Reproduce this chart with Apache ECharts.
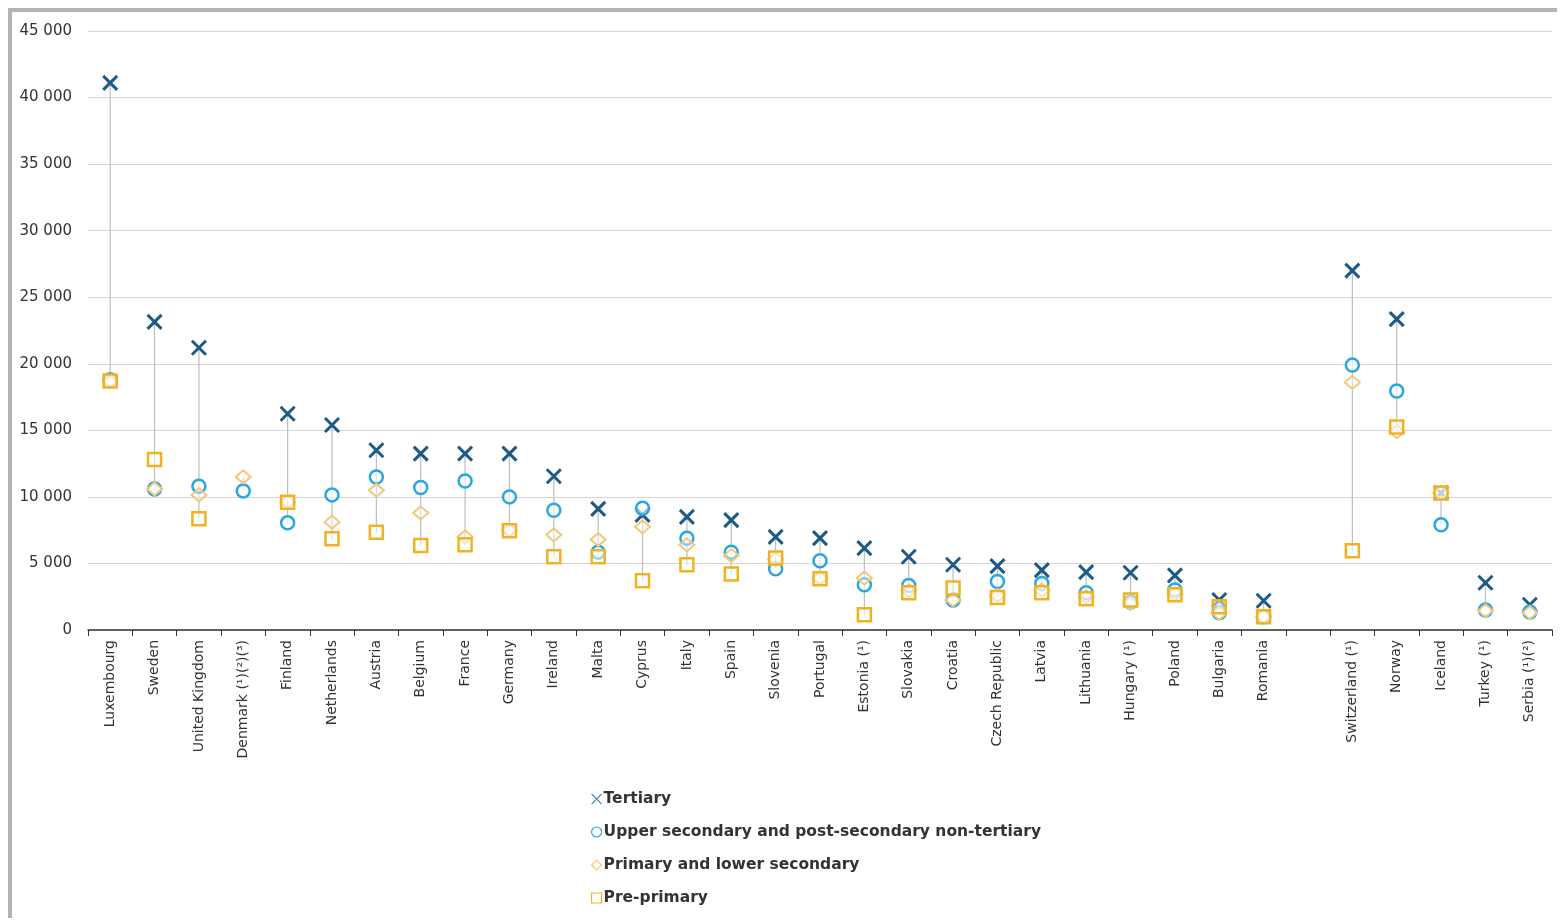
<!DOCTYPE html>
<html>
<head>
<meta charset="utf-8">
<script src="https://cdn.jsdelivr.net/npm/echarts@6/dist/echarts.min.js"></script>
<style>
html,body{margin:0;padding:0;background:#fff;}
#frame{position:absolute;left:8px;top:8px;width:1545px;height:906px;border:4px solid #b3b3b3;border-right:none;border-bottom:none;box-sizing:content-box;}
#chart{position:absolute;left:0;top:0;width:1561px;height:922px;}
</style>
</head>
<body>
<div id="frame"></div>
<div id="chart"></div>
<script>
const categories = ['Luxembourg','Sweden','United Kingdom','Denmark (¹)(²)(³)','Finland','Netherlands','Austria','Belgium','France','Germany','Ireland','Malta','Cyprus','Italy','Spain','Slovenia','Portugal','Estonia (¹)','Slovakia','Croatia','Czech Republic','Latvia','Lithuania','Hungary (¹)','Poland','Bulgaria','Romania','','Switzerland (¹)','Norway','Iceland','Turkey (¹)','Serbia (¹)(²)'];
const tertiary = [41100,23150,21200,null,16250,15400,13500,13250,13250,13250,11550,9100,8650,8500,8250,7000,6900,6150,5500,4900,4800,4500,4350,4300,4100,2250,2200,null,27000,23350,10300,3550,1900];
const upperSecondary = [18800,10600,10800,10450,8050,10150,11500,10700,11200,10000,9000,5850,9150,6900,5850,4600,5200,3400,3350,2250,3650,3500,2800,2100,3000,1300,1000,null,19900,17950,7900,1500,1350];
const primaryLower = [18650,10600,10150,11500,9600,8100,10500,8800,7000,7500,7150,6800,7750,6400,5600,5300,3900,3900,2950,2250,2600,3000,2500,2000,2700,1250,1000,null,18600,14900,10300,1450,1300];
const prePrimary = [18700,12800,8350,null,9600,6850,7350,6350,6400,7450,5500,5500,3700,4900,4200,5400,3850,1150,2800,3150,2450,2800,2350,2250,2650,1750,1000,null,5950,15250,10300,null,null];
const seriesNames = ['Tertiary','Upper secondary and post-secondary non-tertiary','Primary and lower secondary','Pre-primary'];

const allSeries = [tertiary, upperSecondary, primaryLower, prePrimary];
const ranges = categories.map((c, i) => {
  const vals = allSeries.map(s => s[i]).filter(v => v != null);
  if (vals.length < 2) return [i, null, null];
  return [i, Math.min(...vals), Math.max(...vals)];
}).filter(r => r[1] != null);

const fmt = v => String(v).replace(/\B(?=(\d{3})+(?!\d))/g, ' ');
const xPath = 'path://M0,0L10,10M10,0L0,10';
const font = 'DejaVu Sans, Liberation Sans, Arial, sans-serif';

const chart = echarts.init(document.getElementById('chart'), null, {renderer: 'canvas'});
chart.setOption({
  backgroundColor: 'transparent',
  animation: false,
  textStyle: {fontFamily: font},
  grid: {left: 88, right: 9, top: 31, bottom: 292, containLabel: false},
  legend: {
    orient: 'vertical', left: 586, top: 786, itemGap: 17,
    itemWidth: 10, itemHeight: 10,
    textStyle: {fontFamily: font, fontSize: 15.5, fontWeight: 'bold', color: '#333', padding: [0,0,0,-3]},
    data: [
      {name: seriesNames[0], icon: xPath, itemStyle: {color: 'transparent', borderColor: '#5a8fb5', borderWidth: 1.2}},
      {name: seriesNames[1], icon: 'circle', itemStyle: {color: '#fff', borderColor: '#2aa7df', borderWidth: 1.2}},
      {name: seriesNames[2], icon: 'diamond', itemStyle: {color: '#fff', borderColor: '#f3c77a', borderWidth: 1.2}},
      {name: seriesNames[3], icon: 'rect', itemStyle: {color: '#fff', borderColor: '#efb321', borderWidth: 1.2}}
    ]
  },
  xAxis: {
    type: 'category', data: categories, boundaryGap: true,
    axisLine: {lineStyle: {color: '#333', width: 1.5}},
    axisTick: {show: true, alignWithLabel: false, length: 6, lineStyle: {color: '#333'}},
    axisLabel: {rotate: 90, interval: 0, fontSize: 14, color: '#333', margin: 10, fontFamily: font},
    splitLine: {show: false}
  },
  yAxis: {
    type: 'value', min: 0, max: 45000, interval: 5000,
    axisLine: {show: false}, axisTick: {show: false},
    axisLabel: {formatter: fmt, fontSize: 15, color: '#333', margin: 16, fontFamily: font},
    splitLine: {lineStyle: {color: '#d6d6d6', width: 1}}
  },
  series: [
    {
      type: 'custom', name: 'range', silent: true, z: 1,
      data: ranges,
      encode: {x: 0, y: [1, 2]},
      renderItem: (params, api) => {
        const p1 = api.coord([api.value(0), api.value(1)]);
        const p2 = api.coord([api.value(0), api.value(2)]);
        return {type: 'line', shape: {x1: p1[0], y1: p1[1], x2: p2[0], y2: p2[1]}, style: {stroke: '#bdbdbd', lineWidth: 1.2}};
      }
    },
    {name: seriesNames[0], type: 'scatter', data: tertiary, symbol: xPath, symbolSize: 14, z: 2,
     itemStyle: {color: 'transparent', borderColor: '#1d5b86', borderWidth: 3, opacity: 1}},
    {name: seriesNames[1], type: 'scatter', data: upperSecondary, symbol: 'circle', symbolSize: 13, z: 3,
     itemStyle: {color: 'rgba(255,255,255,0.6)', borderColor: '#2aa7df', borderWidth: 2.5, opacity: 1}},
    {name: seriesNames[2], type: 'scatter', data: primaryLower, symbol: 'diamond', symbolSize: [15, 13], z: 4,
     itemStyle: {color: 'rgba(255,255,255,0.4)', borderColor: '#f3c77a', borderWidth: 2, opacity: 1}},
    {name: seriesNames[3], type: 'scatter', data: prePrimary, symbol: 'rect', symbolSize: 13, z: 5,
     itemStyle: {color: 'rgba(255,255,255,0.5)', borderColor: '#efb321', borderWidth: 2.5, opacity: 1}}
  ]
});
</script>
</body>
</html>
